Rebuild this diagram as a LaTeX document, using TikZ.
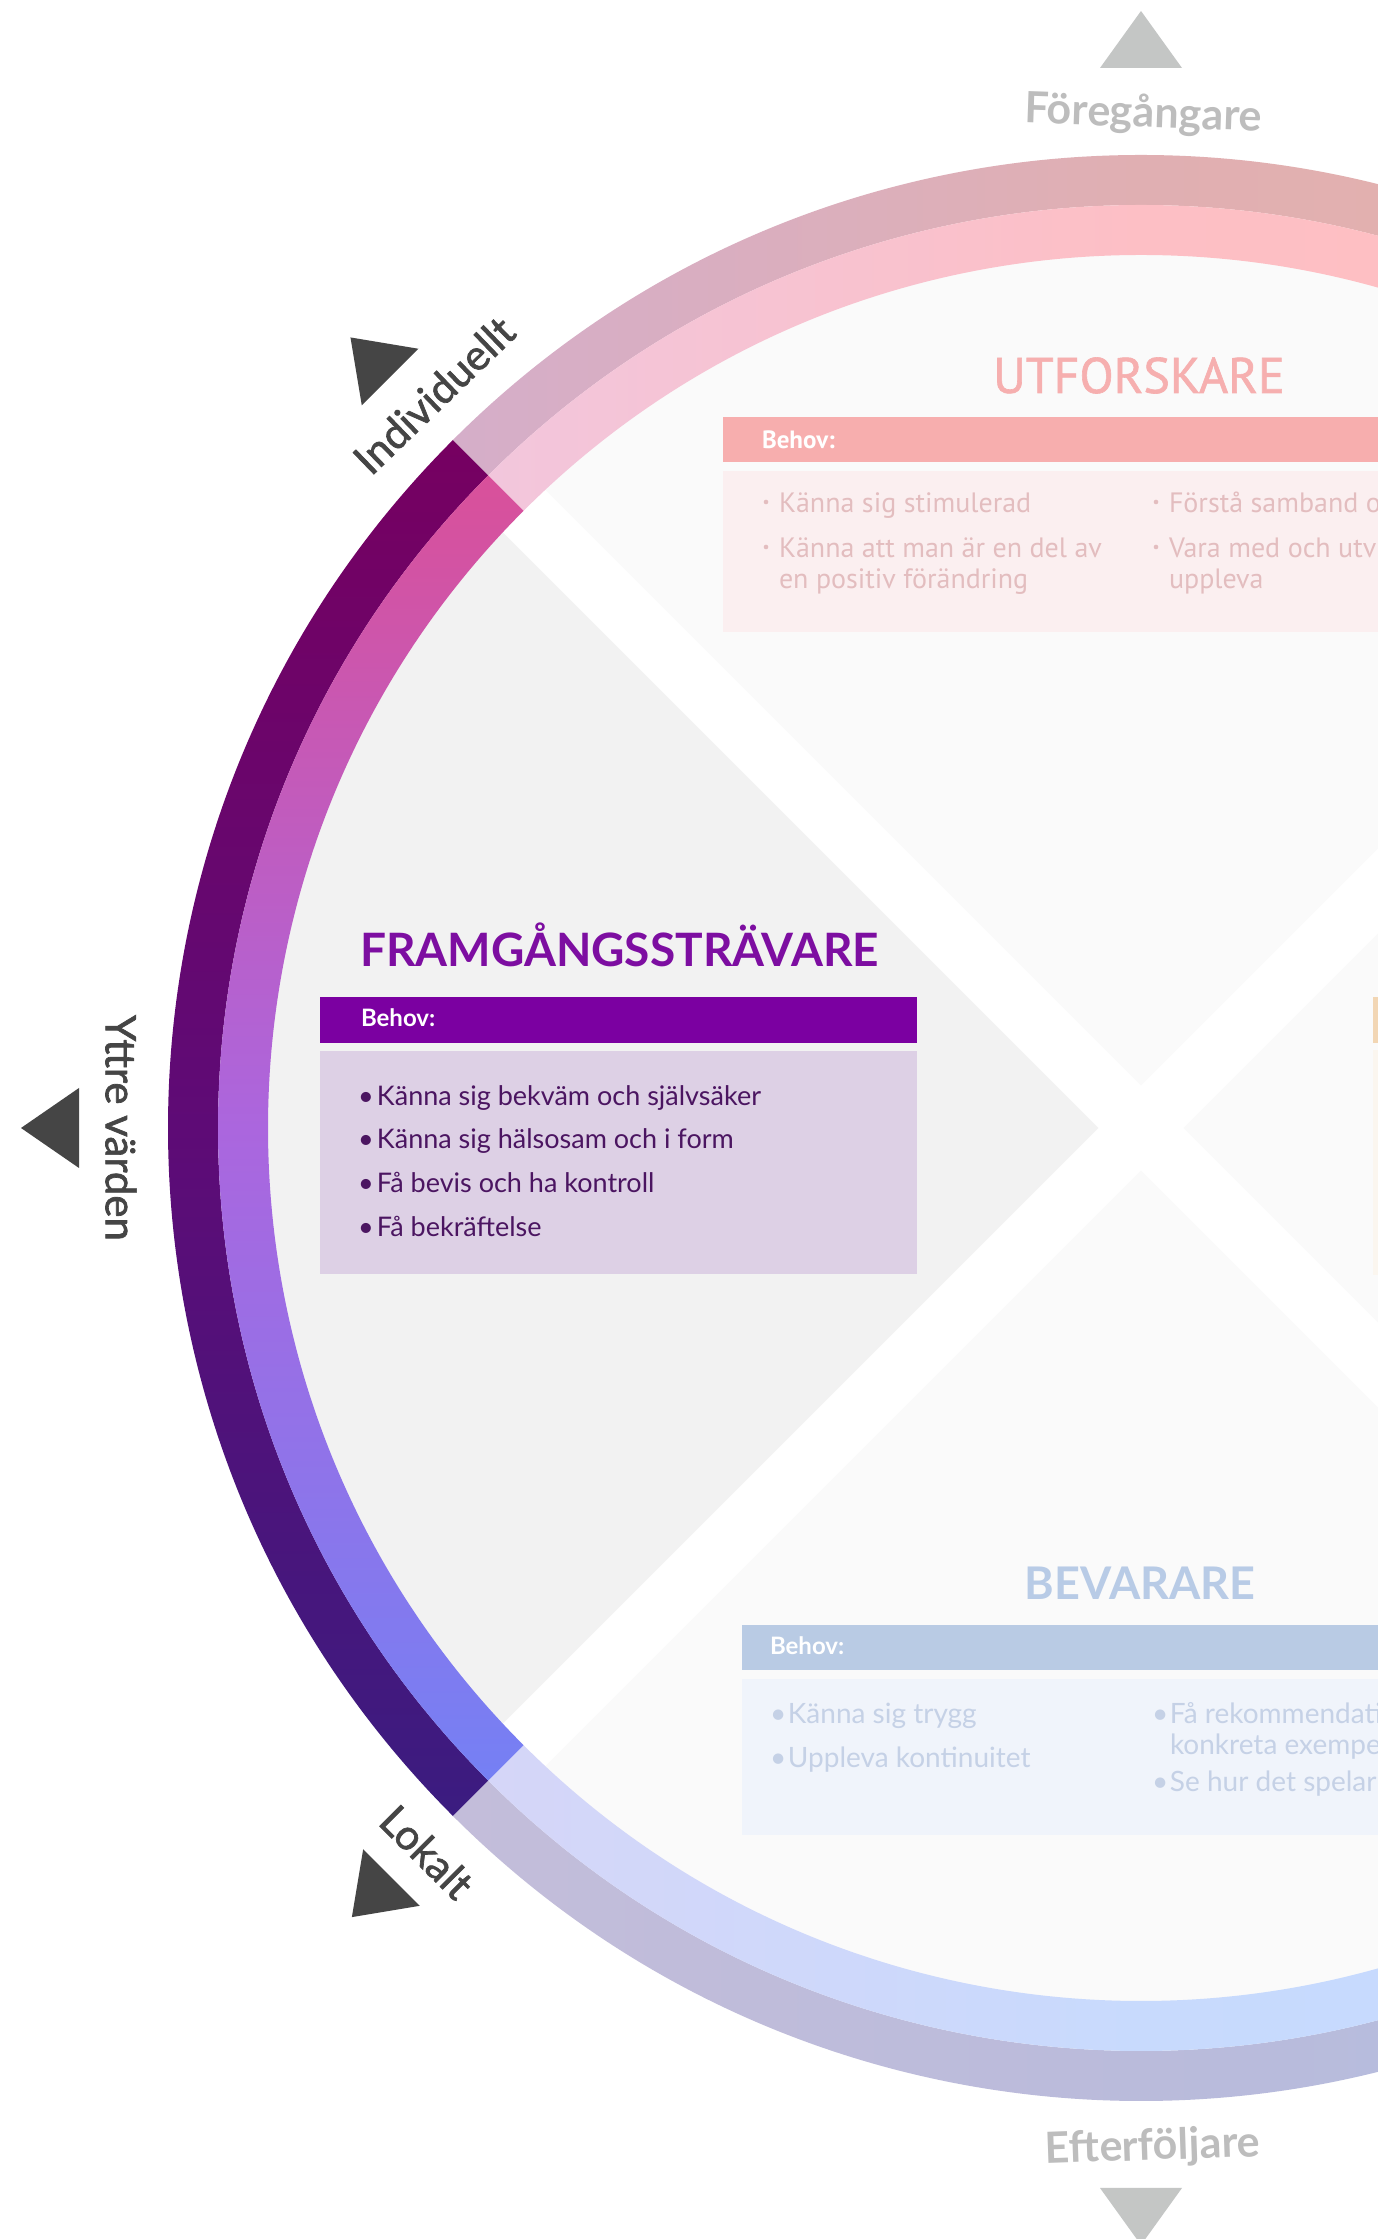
\documentclass[tikz,border=0pt]{standalone}
\usepackage{fontspec}
\setmainfont{Lato}
\newfontfamily\ptsans{PT Sans}
\newfontfamily\ptsemi{PT Sans}[FakeBold=1.2]
\newfontfamily\lblfont{Lato}[FakeBold=1.6]
\usetikzlibrary{calc}
\definecolor{qgrey}{HTML}{F2F2F2}
\definecolor{qlight}{HTML}{FAFAFA}
\definecolor{darktri}{HTML}{454545}
\definecolor{lighttri}{HTML}{C4C6C5}
\definecolor{labelgrey}{HTML}{454545}
\definecolor{lightlabel}{HTML}{BDBDBD}
\definecolor{hoTop}{HTML}{760061}
\definecolor{hoMid}{HTML}{5E0B76}
\definecolor{hoBot}{HTML}{3B1C80}
\definecolor{hiTop}{HTML}{D9509A}
\definecolor{hiMid}{HTML}{AB66DE}
\definecolor{hiBot}{HTML}{7580F4}
\definecolor{toL}{HTML}{D5AEC9}
\definecolor{toM}{HTML}{E0AFB2}
\definecolor{toR}{HTML}{E6B2AA}
\definecolor{tiL}{HTML}{F2C6DC}
\definecolor{tiM}{HTML}{FDBFC5}
\definecolor{tiR}{HTML}{FFC0C0}
\definecolor{boL}{HTML}{C3BDDA}
\definecolor{boM}{HTML}{BABBDB}
\definecolor{boR}{HTML}{B2BDE0}
\definecolor{biL}{HTML}{D5D6F8}
\definecolor{biM}{HTML}{C8DAFD}
\definecolor{biR}{HTML}{C4DAFF}
\definecolor{ftitle}{HTML}{7D0EA1}
\definecolor{fhead}{HTML}{7B00A1}
\definecolor{fbody}{HTML}{DDD0E5}
\definecolor{ftext}{HTML}{4B1561}
\definecolor{utitle}{HTML}{F6AFAF}
\definecolor{uhead}{HTML}{F7AEAE}
\definecolor{ubody}{HTML}{FBEFF0}
\definecolor{utext}{HTML}{E3BDBF}
\definecolor{btitle}{HTML}{B8CBE6}
\definecolor{bhead}{HTML}{B9CBE4}
\definecolor{bbody}{HTML}{F0F4FB}
\definecolor{btext}{HTML}{C5D1E6}
\definecolor{ohead}{HTML}{F2D6B4}
\definecolor{obody}{HTML}{FBF6EF}
% font size given in picture pixels (1 px = 0.25pt)
\newcommand{\myfs}[1]{\fontsize{\fpeval{#1/4}pt}{\fpeval{#1/4}pt}\selectfont}
\newcommand{\fbul}{\makebox[4.75pt][l]{•}}
\newcommand{\bbul}{\makebox[4.5pt][l]{•}}
\tikzset{
  every node/.style={inner sep=0pt, outer sep=0pt},
  lbl/.style={text=labelgrey, font=\lblfont\myfs{42}},
  toplbl/.style={text=lightlabel, font=\myfs{43}\bfseries},
  behov/.style={anchor=base west, text=white, font=\myfs{24}\bfseries},
  ftxt/.style={anchor=base west, text=ftext, font=\myfs{27}},
  utxt/.style={anchor=base west, text=utext, font=\ptsans\myfs{28}},
  btxt/.style={anchor=base west, text=btext, font=\myfs{28}},
  udot/.style={circle, fill=utext, minimum size=1.15pt},
}
\begin{document}
\begin{tikzpicture}[x=0.25pt,y=0.25pt]
\fill[white] (0,0) rectangle (1378,2239);
\begin{scope}
\clip (0,0) rectangle (1378,2239);
\coordinate (C) at (1141,1111);
% inner disk and quadrants
\fill[qlight] (C) circle[radius=880];
\fill[qgrey] (C) -- ($(C)+(135:900)$) arc[start angle=135,end angle=225,radius=900] -- cycle;
\fill[white] ($(C)+(45:1000)+(135:30)$) -- ($(C)+(45:1000)+(-45:30)$) -- ($(C)+(225:1000)+(-45:30)$) -- ($(C)+(225:1000)+(135:30)$) -- cycle;
\fill[white] ($(C)+(135:1000)+(45:30)$) -- ($(C)+(135:1000)+(225:30)$) -- ($(C)+(-45:1000)+(225:30)$) -- ($(C)+(-45:1000)+(45:30)$) -- cycle;
% highlighted ring segment (left)
\shade[top color=hoTop, bottom color=hoBot, middle color=hoMid]
  ($(C)+(135:973)$) arc[start angle=135,end angle=225,radius=973] -- ($(C)+(225:923)$) arc[start angle=225,end angle=135,radius=923] -- cycle;
\shade[top color=hiTop, bottom color=hiBot, middle color=hiMid]
  ($(C)+(135:923)$) arc[start angle=135,end angle=225,radius=923] -- ($(C)+(225:873)$) arc[start angle=225,end angle=135,radius=873] -- cycle;
% top faded ring
\shade[left color=toL, right color=toR, middle color=toM]
  ($(C)+(45:973)$) arc[start angle=45,end angle=135,radius=973] -- ($(C)+(135:923)$) arc[start angle=135,end angle=45,radius=923] -- cycle;
\shade[left color=tiL, right color=tiR, middle color=tiM]
  ($(C)+(45:923)$) arc[start angle=45,end angle=135,radius=923] -- ($(C)+(135:873)$) arc[start angle=135,end angle=45,radius=873] -- cycle;
% bottom faded ring
\shade[left color=boL, right color=boR, middle color=boM]
  ($(C)+(225:973)$) arc[start angle=225,end angle=315,radius=973] -- ($(C)+(315:923)$) arc[start angle=315,end angle=225,radius=923] -- cycle;
\shade[left color=biL, right color=biR, middle color=biM]
  ($(C)+(225:923)$) arc[start angle=225,end angle=315,radius=923] -- ($(C)+(315:873)$) arc[start angle=315,end angle=225,radius=873] -- cycle;
% direction triangles
\fill[lighttri] ($(C)+(90:1117)$) -- ($(C)+(90:1060)+(0:41)$) -- ($(C)+(90:1060)+(180:41)$) -- cycle;
\fill[lighttri] ($(C)+(270:1117)$) -- ($(C)+(270:1060)+(0:41)$) -- ($(C)+(270:1060)+(180:41)$) -- cycle;
\fill[darktri] ($(C)+(135:1118)$) -- ($(C)+(135:1062)+(45:40)$) -- ($(C)+(135:1062)+(225:40)$) -- cycle;
\fill[darktri] ($(C)+(180:1120)$) -- ($(C)+(180:1062)+(90:40)$) -- ($(C)+(180:1062)+(270:40)$) -- cycle;
\fill[darktri] ($(C)+(225:1116)$) -- ($(C)+(225:1060)+(135:40)$) -- ($(C)+(225:1060)+(315:40)$) -- cycle;
% outer labels
\node[toplbl, anchor=base, rotate=-2] (fore) at (1143,2112) {Föregångare};
\node[toplbl, anchor=base, rotate=2] (efter) at (1153,79) {Efterföljare};
\node[lbl, rotate=44] (indiv) at (434,1844) {Individuellt};
\node[lbl, rotate=-90] (yttre) at (121,1111) {Yttre värden};
\node[lbl, rotate=-45] (lokalt) at (427,387) {Lokalt};
% FRAMGANGSSTRAVARE box
\fill[fhead] (320,1196) rectangle (917,1242);
\fill[fbody] (320,965) rectangle (917,1188);
\node[anchor=base west, text=ftitle, font=\myfs{46}\bfseries] (ftit) at (360,1272) {FRAMGÅNGSSTRÄVARE};
\node[behov] (fbeh) at (361,1212) {Behov:};
\node[ftxt] (ft1) at (358,1133) {\fbul Känna sig bekväm och självsäker};
\node[ftxt] (ft2) at (358,1090) {\fbul Känna sig hälsosam och i form};
\node[ftxt] (ft3) at (358,1046) {\fbul Få bevis och ha kontroll};
\node[ftxt] (ft4) at (358,1002) {\fbul Få bekräftelse};
% right quadrant box edge
\fill[ohead] (1373,1196) rectangle (1400,1242);
\fill[obody] (1373,964) rectangle (1400,1189);
% UTFORSKARE box
\fill[uhead] (723,1777) rectangle (1400,1822);
\fill[ubody] (723,1607) rectangle (1400,1768);
\node[anchor=base, text=utitle, font=\ptsemi\myfs{50}] (utit) at (1139,1846) {UTFORSKARE};
\node[behov, font=\ptsans\myfs{25}\bfseries] (ubeh) at (762,1790) {Behov:};
\node[udot] (ud1) at (766,1737) {};
\node[utxt] (ut1) at (779,1726) {Känna sig stimulerad};
\node[udot] (ud2) at (766,1692) {};
\node[utxt] (ut2) at (779,1681) {Känna att man är en del av};
\node[utxt] (ut3) at (779,1650) {en positiv förändring};
\node[udot] (ud3) at (1156,1737) {};
\node[utxt] (ut4) at (1169,1726) {Förstå samband o};
\node[udot] (ud4) at (1156,1692) {};
\node[utxt] (ut5) at (1169,1681) {Vara med och utv};
\node[utxt] (ut6) at (1169,1650) {uppleva};
% BEVARARE box
\fill[bhead] (742,569) rectangle (1400,614);
\fill[bbody] (742,404) rectangle (1400,560);
\node[anchor=base, text=btitle, font=\myfs{45}\bfseries] (btit) at (1140,639) {BEVARARE};
\node[behov] (bbeh) at (770,584) {Behov:};
\node[btxt] (bt1) at (770,515) {\bbul Känna sig trygg};
\node[btxt] (bt2) at (770,471) {\bbul Uppleva kontinuitet};
\node[btxt] (bt3) at (1152,515) {\bbul Få rekommendati};
\node[btxt] (bt4) at (1170,484) {konkreta exempe};
\node[btxt] (bt5) at (1152,447) {\bbul Se hur det spelar};
\end{scope}
\pgfresetboundingbox
\useasboundingbox (0,0) rectangle (1378,2239);
\end{tikzpicture}
\end{document}
